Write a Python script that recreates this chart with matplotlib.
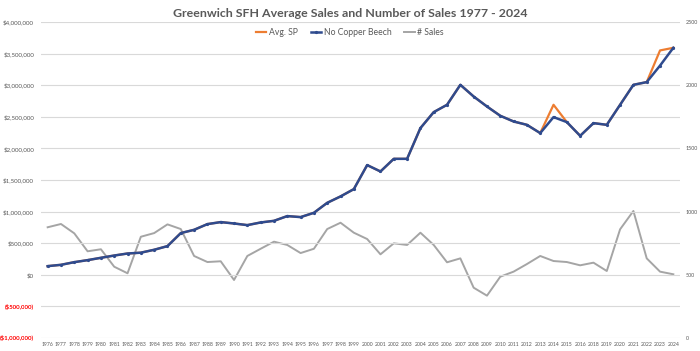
import matplotlib
matplotlib.use("Agg")
import matplotlib.pyplot as plt
import numpy as np
from matplotlib.ticker import FuncFormatter

plt.rcParams['font.family'] = ['Lato', 'DejaVu Sans']

years = [str(y) for y in range(1976, 2017)] + [str(y) for y in range(2018, 2025)]

no_copper_beech = [137, 158, 200, 232, 269, 305, 337, 350, 396, 454,
                   660, 712, 802, 834, 812, 786, 828, 854, 929, 913,
                   981, 1139, 1240, 1356, 1736, 1635, 1835, 1835, 2321, 2574,
                   2690, 3006, 2821, 2663, 2516, 2426, 2373, 2242, 2495, 2416,
                   2199, 2400, 2373, 2690, 3006, 3049, 3310, 3592]
no_copper_beech = [v * 1000 for v in no_copper_beech]

avg_sp = list(no_copper_beech)
avg_sp[years.index("2014")] = 2690000
avg_sp[years.index("2023")] = 3550000

num_sales = [876, 902, 828, 686, 702, 564, 512, 801, 830, 899,
             862, 649, 601, 607, 459, 649, 706, 762, 736, 672,
             706, 862, 912, 833, 783, 662, 749, 736, 833, 736,
             599, 630, 398, 335, 485, 525, 585, 649, 609, 601,
             575, 596, 530, 860, 1005, 630, 525, 504]

x = np.arange(len(years))

fig = plt.figure(figsize=(7, 3.51), dpi=100)
ax = fig.add_axes([41 / 700, 13 / 351, 639 / 700, 316 / 351])
ax2 = ax.twinx()

gray_txt = "#595959"
ax.plot(x, avg_sp, color="#ED7D31", lw=1.6, label="Avg. SP", zorder=3)
ax.plot(x, no_copper_beech, color="#2F4B8E", lw=1.8, marker="o", ms=1.3,
        label="No Copper Beech", zorder=4)
ax2.plot(x, num_sales, color="#A5A5A5", lw=1.4, label="# Sales", zorder=2)

ax.set_xlim(-0.5, len(years) - 0.5)
ax.set_ylim(-1000000, 4000000)
ax.set_yticks(np.arange(-1000000, 4000001, 500000))
ax2.set_ylim(0, 2500)
ax2.set_yticks([0, 500, 1000, 1500, 2000, 2500])

def money(v, pos):
    if v < 0:
        return "(${:,.0f})".format(-v)
    return "${:,.0f}".format(v)

ax.yaxis.set_major_formatter(FuncFormatter(money))
ax.set_xticks(x)
ax.set_xticklabels(years, fontsize=3.7, color=gray_txt)
for lbl, val in zip(ax.get_yticklabels(), ax.get_yticks()):
    lbl.set_fontsize(4.4)
    if val < 0:
        lbl.set_color("#FF0000")
        lbl.set_fontweight("bold")
    else:
        lbl.set_color(gray_txt)
for lbl in ax2.get_yticklabels():
    lbl.set_fontsize(3.9)
    lbl.set_color(gray_txt)

ax.grid(axis="y", color="#D9D9D9", lw=0.8)
ax.set_axisbelow(True)
for a in (ax, ax2):
    for s in a.spines.values():
        s.set_visible(False)
    a.tick_params(length=0)
ax.tick_params(axis="x", pad=3)
ax.tick_params(axis="y", pad=5)
ax2.tick_params(axis="y", pad=4)
ax.set_zorder(ax2.get_zorder() + 1)
ax.patch.set_visible(False)

fig.text(0.5, 0.962, "Greenwich SFH Average Sales and Number of Sales 1977 - 2024",
         ha="center", va="center", fontsize=8.9, fontweight="bold", color=gray_txt)

h1, l1 = ax.get_legend_handles_labels()
h2, l2 = ax2.get_legend_handles_labels()
fig.legend(h1 + h2, l1 + l2, loc="center", bbox_to_anchor=(0.5, 0.908), ncol=3,
           frameon=False, fontsize=6.2, labelcolor=gray_txt, handlelength=1.2,
           handletextpad=0.3, columnspacing=1.5)

fig.savefig("out.png", dpi=100)
